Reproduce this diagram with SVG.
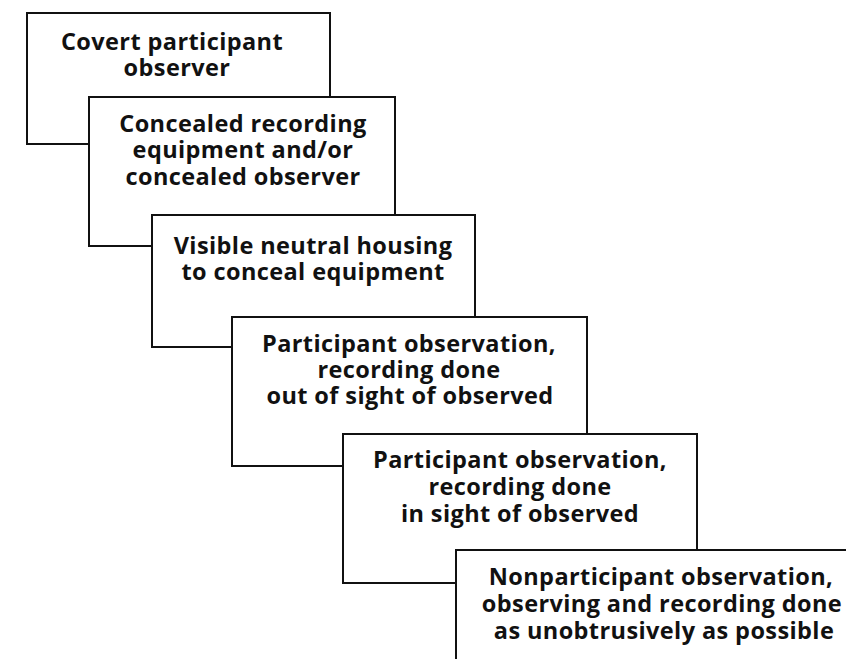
<svg xmlns="http://www.w3.org/2000/svg" width="846" height="659" viewBox="0 0 846 659">
<style>
.box{fill:#fff;stroke:#111;stroke-width:2}
.t{font-family:"Open Sans",Lato,"Liberation Sans",sans-serif;font-weight:700;font-size:23.5px;letter-spacing:0.4px;fill:#111;text-anchor:middle}
</style>
<rect width="846" height="659" fill="#fff"/>
<g id="n1">
<rect class="box" x="27" y="13" width="303" height="131"/>
<text class="t" x="172" y="50">Covert participant</text>
<text class="t" x="177" y="76">observer</text>
</g>
<g id="n2">
<rect class="box" x="89" y="97" width="306" height="149"/>
<text class="t" x="243" y="132">Concealed recording</text>
<text class="t" x="243" y="158">equipment and/or</text>
<text class="t" x="243" y="185">concealed observer</text>
</g>
<g id="n3">
<rect class="box" x="152" y="215" width="323" height="132"/>
<text class="t" x="313" y="254">Visible neutral housing</text>
<text class="t" x="313" y="280">to conceal equipment</text>
</g>
<g id="n4">
<rect class="box" x="232" y="317" width="355" height="149"/>
<text class="t" x="409" y="352">Participant observation,</text>
<text class="t" x="409" y="378">recording done</text>
<text class="t" x="410" y="404">out of sight of observed</text>
</g>
<g id="n5">
<rect class="box" x="343" y="434" width="354" height="149"/>
<text class="t" x="520" y="468">Participant observation,</text>
<text class="t" x="520" y="495">recording done</text>
<text class="t" x="520" y="522">in sight of observed</text>
</g>
<g id="n6">
<rect class="box" x="456" y="550" width="420" height="140"/>
<text class="t" x="661" y="585">Nonparticipant observation,</text>
<text class="t" x="662" y="612">observing and recording done</text>
<text class="t" x="664" y="639">as unobtrusively as possible</text>
</g>
<g id="connectors"/>
</svg>
